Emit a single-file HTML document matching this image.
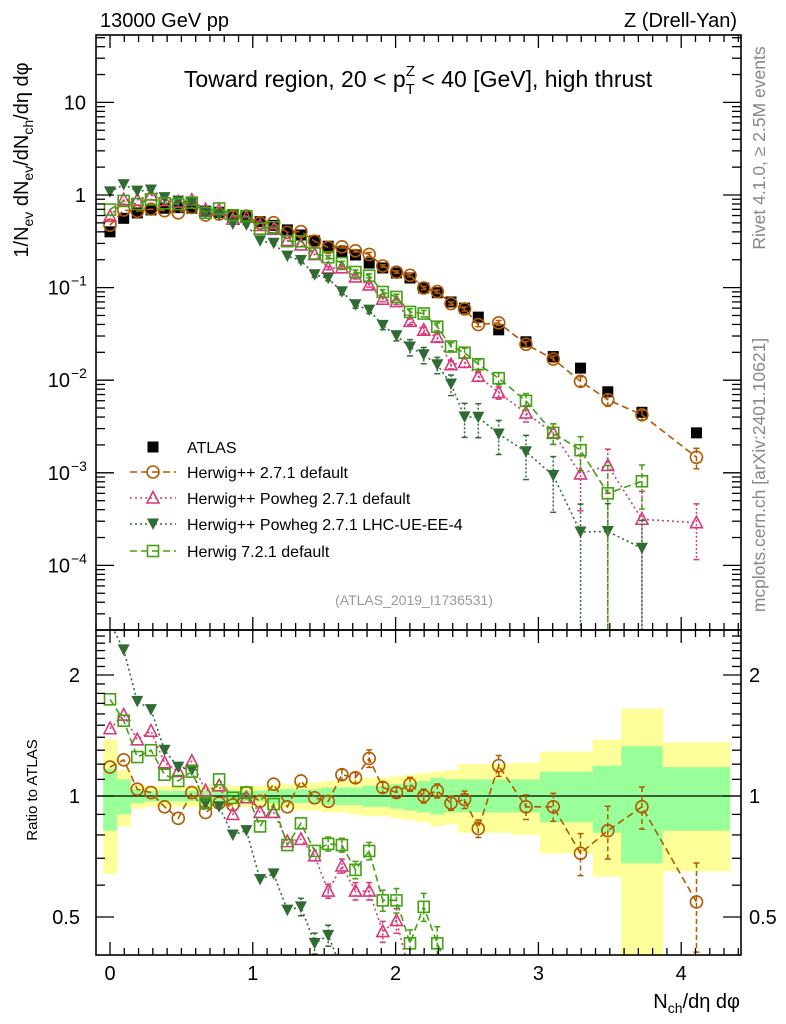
<!DOCTYPE html>
<html><head><meta charset="utf-8">
<style>
html,body{margin:0;padding:0;background:#fff;overflow:hidden;width:786px;height:1024px;}
svg{display:block;font-family:"Liberation Sans",sans-serif;}
</style></head>
<body>
<svg id="chart" width="786" height="1024" viewBox="0 0 786 1024" xmlns="http://www.w3.org/2000/svg">
<defs>
<clipPath id="cm"><rect x="96" y="35" width="645" height="595"/></clipPath>
<clipPath id="cr"><rect x="96" y="630" width="645" height="325"/></clipPath>
</defs>
<text x="100" y="27" font-size="20">13000 GeV pp</text>
<text x="737" y="27" font-size="20" text-anchor="end">Z (Drell-Yan)</text>
<g id="bands" clip-path="url(#cr)"></g>
<g id="mainPlot" clip-path="url(#cm)"></g>
<g id="ratioPlot" clip-path="url(#cr)"></g>
<g id="axes"></g>
<text x="418" y="87" font-size="23" text-anchor="middle">Toward region, 20 &lt; p<tspan font-size="15" dy="7">T</tspan><tspan font-size="15" dx="-9" dy="-18">Z</tspan><tspan dy="11"> &lt; 40 [GeV], high thrust</tspan></text>
<text transform="translate(28,160) rotate(-90)" font-size="20" text-anchor="middle">1/N<tspan font-size="14" dy="5">ev</tspan><tspan dy="-5"> dN</tspan><tspan font-size="14" dy="5">ev</tspan><tspan dy="-5">/dN</tspan><tspan font-size="14" dy="5">ch</tspan><tspan dy="-5">/dη dφ</tspan></text>
<text transform="translate(37,790) rotate(-90)" font-size="15" text-anchor="middle">Ratio to ATLAS</text>
<text x="740" y="1008" font-size="20" text-anchor="end">N<tspan font-size="14" dy="5">ch</tspan><tspan dy="-5">/dη dφ</tspan></text>
<text transform="translate(765,148) rotate(-90)" font-size="17.5" fill="#888" text-anchor="middle">Rivet 4.1.0, ≥ 2.5M events</text>
<text transform="translate(765,475) rotate(-90)" font-size="17.5" fill="#888" text-anchor="middle">mcplots.cern.ch [arXiv:2401.10621]</text>
<text x="414" y="605" font-size="14" fill="#999" text-anchor="middle">(ATLAS_2019_I1736531)</text>
<g id="legend"></g>
</svg>
<script>
const xVals = [0,0.096,0.191,0.287,0.382,0.478,0.573,0.669,0.764,0.860,0.955,1.051,1.146,1.242,1.337,1.433,1.528,1.624,1.719,1.815,1.910,2.006,2.101,2.197,2.292,2.388,2.483,2.579,2.722,2.913,3.104,3.295,3.486,3.725,4.107];
const atlas = [0.40,0.56,0.64,0.69,0.72,0.73,0.72,0.67,0.65,0.61,0.58,0.515,0.47,0.42,0.37,0.32,0.28,0.244,0.225,0.184,0.163,0.144,0.127,0.099,0.088,0.070,0.060,0.048,0.035,0.026,0.018,0.0135,0.0075,0.0045,0.0027];
const hwRatio = [1.18,1.23,1.04,1.02,0.94,0.88,1.02,0.91,0.96,0.95,1.02,0.97,1.07,0.94,1.09,0.99,0.97,1.13,1.11,1.24,1.05,1.02,1.07,1.0,1.03,0.96,0.98,0.83,1.19,0.94,0.94,0.72,0.82,0.94,0.545];
const pwRatio = [1.47,1.59,1.38,1.45,1.21,1.15,1.22,1.03,1.06,0.90,0.99,0.91,0.91,0.77,0.78,0.71,0.58,0.67,0.58,0.58,0.46,0.49,0.34,0.35,0.33,0.21,0.26,0.23,0.21,0.17,0.15,0.072,0.16,0.07,0.107];
const ueRatio = [2.7,2.31,1.72,1.64,1.30,1.18,1.16,0.955,0.94,0.80,0.82,0.62,0.64,0.52,0.53,0.43,0.45,0.37,0.29,0.31,0.24,0.21,0.18,0.19,0.167,0.13,0.067,0.083,0.075,0.065,0.052,0.017,0.031,0.034,null];
const h7Ratio = [1.74,1.54,1.25,1.30,1.13,1.09,1.15,0.96,1.10,0.99,1.02,0.84,0.955,0.755,0.855,0.73,0.76,0.755,0.655,0.73,0.55,0.55,0.43,0.53,0.43,0.33,0.33,0.31,0.30,0.23,0.15,0.13,0.08,0.18,null];
const hwErr = [0,0,0,0,0,0,0,0,0,0,0,0,0,0,0,0,0,0.03,0.03,0.05,0.03,0.03,0.04,0.04,0.04,0.04,0.05,0.05,0.06,0.07,0.08,0.12,0.15,0.12,0.25];
const pwErr = [0,0,0,0,0,0,0,0,0,0,0,0,0,0,0,0,0.04,0.04,0.05,0.05,0.06,0.07,0.08,0.08,0.1,0.1,0.12,0.12,0.15,0.2,0.25,0.6,0.5,1.0,0.6];
const ueErr = [0,0,0,0,0,0,0,0,0,0,0,0,0,0,0.05,0.06,0.06,0.07,0.08,0.08,0.1,0.12,0.2,0.2,0.2,0.25,0.4,0.4,0.4,0.5,0.6,1,1,1,0];
const h7Err = [0,0,0,0,0,0,0,0,0,0,0,0,0,0,0,0,0.04,0.04,0.05,0.05,0.06,0.07,0.08,0.08,0.1,0.1,0.12,0.12,0.15,0.2,0.25,0.4,1.0,0.5,0];
const yellowHi = [1.38,1.16,1.07,1.06,1.06,1.06,1.06,1.06,1.06,1.06,1.06,1.06,1.07,1.07,1.08,1.08,1.09,1.09,1.10,1.11,1.11,1.12,1.13,1.14,1.15,1.16];
const yellowLo = [0.64,0.84,0.93,0.94,0.94,0.94,0.94,0.94,0.94,0.94,0.94,0.94,0.93,0.93,0.92,0.92,0.91,0.91,0.90,0.89,0.89,0.88,0.87,0.86,0.84,0.85];
const greenHi = [1.17,1.10,1.04,1.03,1.03,1.03,1.03,1.03,1.03,1.03,1.03,1.03,1.04,1.04,1.04,1.04,1.05,1.05,1.05,1.06,1.06,1.07,1.08,1.09,1.11,1.10];
const greenLo = [0.82,0.90,0.96,0.97,0.97,0.97,0.97,0.97,0.97,0.97,0.97,0.97,0.96,0.96,0.96,0.96,0.95,0.95,0.95,0.94,0.94,0.93,0.92,0.91,0.90,0.91];
const wideEdges = [2.435,2.82,3.01,3.38,3.58,3.87,4.34];
const wideYellowHi = [1.20,1.21,1.29,1.38,1.65,1.36];
const wideYellowLo = [0.81,0.80,0.72,0.63,0.30,0.65];
const wideGreenHi = [1.10,1.10,1.15,1.19,1.33,1.18];
const wideGreenLo = [0.91,0.91,0.86,0.81,0.68,0.82];
const mainTickLabels = ["10","1","10","10","10","10"];
const mainTickExps = [null,null,"−1","−2","−3","−4"];
const mainTickVals = [10,1,0.1,0.01,0.001,0.0001];
const xTickVals = [0,1,2,3,4];
const ratioTickVals = [0.5,1,2];
const ratioTickLabels = ["0.5","1","2"];

const NS="http://www.w3.org/2000/svg";
const xp = x => 110 + 142.8*x;
const ym = v => 195 - 92.6*Math.log10(v);
const yr = r => 796 - 121*Math.log2(r);
const narrowHalf = 0.0477;
function mk(tag, attrs, parent){const e=document.createElementNS(NS,tag);for(const k in attrs)e.setAttribute(k,attrs[k]);parent.appendChild(e);return e;}

const bands=document.getElementById('bands');
for(let i=0;i<yellowHi.length;i++){
  const x0=xp(xVals[i]-narrowHalf), x1=xp(xVals[i]+narrowHalf);
  const a=mk('rect',{x:x0,y:yr(yellowHi[i]),width:x1-x0+0.5,height:yr(yellowLo[i])-yr(yellowHi[i]),fill:'#ffff99'},bands);
  
  
  const b=mk('rect',{x:x0,y:yr(greenHi[i]),width:x1-x0+0.5,height:yr(greenLo[i])-yr(greenHi[i]),fill:'#99ff99'},bands);
  
  
}
for(let i=0;i<wideYellowHi.length;i++){
  const x0=xp(wideEdges[i]), x1=xp(wideEdges[i+1]);
  const yt=yr(wideYellowHi[i]), yb=Math.min(955,yr(wideYellowLo[i]));
  const a=mk('rect',{x:x0,y:yt,width:x1-x0+0.5,height:yb-yt,fill:'#ffff99'},bands);
  
  
  const b=mk('rect',{x:x0,y:yr(wideGreenHi[i]),width:x1-x0+0.5,height:yr(wideGreenLo[i])-yr(wideGreenHi[i]),fill:'#99ff99'},bands);
  
  
}
const rp=document.getElementById('ratioPlot');
const one=mk('line',{x1:96,x2:741,y1:yr(1),y2:yr(1),stroke:'#000','stroke-width':1.3},rp);



function marker(g,type,cx,cy,color){
  let e;
  if(type==='sq') e=mk('rect',{x:cx-5.5,y:cy-5.5,width:11,height:11,fill:color},g);
  else if(type==='circ') e=mk('circle',{cx:cx,cy:cy,r:6,fill:'none',stroke:color,'stroke-width':1.6},g);
  else if(type==='tri') e=mk('polygon',{points:`${cx},${cy-6.5} ${cx-6},${cy+5} ${cx+6},${cy+5}`,fill:'none',stroke:color,'stroke-width':1.6},g);
  else if(type==='itri') e=mk('polygon',{points:`${cx-6},${cy-5.5} ${cx+6},${cy-5.5} ${cx},${cy+6}`,fill:color},g);
  else if(type==='osq') e=mk('rect',{x:cx-5.5,y:cy-5.5,width:11,height:11,fill:'none',stroke:color,'stroke-width':1.6},g);
  return e;
}
const series=[
  {name:'herwigpp-271',ratio:hwRatio,err:hwErr,color:'#b35a00',type:'circ',dash:'7,4'},
  {name:'powheg-271-default',ratio:pwRatio,err:pwErr,color:'#d63a7a',type:'tri',dash:'2,3'},
  {name:'powheg-271-lhc-ue',ratio:ueRatio,err:ueErr,color:'#2f6b33',type:'itri',dash:'2,3'},
  {name:'herwig-721',ratio:h7Ratio,err:h7Err,color:'#44a012',type:'osq',dash:'7,4'}
];
const mp=document.getElementById('mainPlot');
function drawSeries(g,s,panel){
  const grp=mk('g',{},g);
  
  
  const pts=[];
  const bottom = panel==='main' ? 630 : 955;
  const yf = panel==='main' ? (i=>ym(atlas[i]*s.ratio[i])) : (i=>yr(s.ratio[i]));
  for(let i=0;i<xVals.length;i++){ if(s.ratio[i]==null) continue; pts.push([xp(xVals[i]),Math.min(bottom+20,yf(i))]); }
  const ln=mk('polyline',{points:pts.map(p=>p.join(',')).join(' '),fill:'none',stroke:s.color,'stroke-width':1.6,'stroke-dasharray':s.dash},grp);
  
  
  for(let i=0;i<xVals.length;i++){
    if(s.ratio[i]==null) continue;
    const v = panel==='main'? atlas[i]*s.ratio[i] : s.ratio[i];
    const cx=xp(xVals[i]), cy=yf(i);
    if(cy>bottom+15) continue;
    const e=s.err[i];
    if(e>0){
      const yt = panel==='main'? ym(v*(1+e)) : yr(v*(1+e));
      const lo=v*(1-e);
      let yb = lo<=0 ? bottom : (panel==='main'? ym(lo) : yr(lo));
      yb=Math.min(bottom,yb);
      const eb=mk('line',{x1:cx,x2:cx,y1:yt,y2:yb,stroke:s.color,'stroke-width':1.5,'stroke-dasharray':s.dash==='2,3'?'2,2':'5,3'},grp);
      
      
      mk('line',{x1:cx-3,x2:cx+3,y1:yt,y2:yt,stroke:s.color,'stroke-width':1.5},grp);
      if(lo>0 && yb<bottom) mk('line',{x1:cx-3,x2:cx+3,y1:yb,y2:yb,stroke:s.color,'stroke-width':1.5},grp);
    }
    const m=marker(grp,s.type,cx,cy,s.color);
    
    
  }
}
const ag=mk('g',{},mp);


for(let i=0;i<xVals.length;i++){
  const m=marker(ag,'sq',xp(xVals[i]),ym(atlas[i]),'#000');
  
  
}
series.forEach(s=>drawSeries(mp,s,'main'));
series.forEach(s=>drawSeries(rp,s,'ratio'));

const ax=document.getElementById('axes');
function frame(y0,y1,name){
  const r=mk('rect',{x:96,y:y0,width:645,height:y1-y0,fill:'none',stroke:'#000','stroke-width':1.6},ax);
  
  
}
frame(35,630,'main-frame'); frame(630,955,'ratio-frame');
function tl(x1,y1,x2,y2){mk('line',{x1,y1,x2,y2,stroke:'#000','stroke-width':1.3},ax);}
for(let k=-1;k<=44;k++){
  const x=xp(k/10); if(x<96||x>741) continue;
  const L = k%10===0?13:7;
  tl(x,35,x,35+L); tl(x,630,x,630-L); tl(x,630,x,630+L); tl(x,955,x,955-L);
}
xTickVals.forEach(v=>{
  const t=mk('text',{x:xp(v),y:980,'font-size':20,'text-anchor':'middle'},ax);
  t.textContent=String(v);
  
  
});
for(let d=-5;d<=1;d++){
  for(let m=1;m<=9;m++){
    const v=m*Math.pow(10,d); const y=ym(v); if(y<35||y>630) continue;
    const L=m===1?18:9;
    tl(96,y,96+L,y); tl(741,y,741-L,y);
  }
}
mainTickVals.forEach((v,i)=>{
  const t=mk('text',{x:mainTickExps[i]?70:86,y:ym(v)+7,'font-size':20,'text-anchor':'end'},ax);
  t.textContent=mainTickLabels[i];
  
  
  if(mainTickExps[i]){
    const s=mk('text',{x:71,y:ym(v)-2,'font-size':14,'text-anchor':'start'},ax);
    s.textContent=mainTickExps[i];
    
    
  }
});
for(let k=4;k<=25;k++){
  const v=k/10; const y=yr(v); if(y<630||y>955) continue;
  const L=(k===5||k===10||k===20)?18:9;
  tl(96,y,96+L,y); tl(741,y,741-L,y);
}
ratioTickVals.forEach((v,i)=>{
  const t=mk('text',{x:80,y:yr(v)+7,'font-size':20,'text-anchor':'end'},ax);
  t.textContent=ratioTickLabels[i];
  
  
  const t2=mk('text',{x:749,y:yr(v)+7,'font-size':20,'text-anchor':'start'},ax);
  t2.textContent=ratioTickLabels[i];
  
  
});

const lg=document.getElementById('legend');
const legLabels=['ATLAS','Herwig++ 2.7.1 default','Herwig++ Powheg 2.7.1 default','Herwig++ Powheg 2.7.1 LHC-UE-EE-4','Herwig 7.2.1 default'];
const legY=[447,472,498,524,551];
legLabels.forEach((lab,i)=>{
  const g=mk('g',{},lg);
  
  
  if(i===0){ marker(g,'sq',153,legY[i],'#000'); }
  else {
    const s=series[i-1];
    mk('line',{x1:130,x2:176,y1:legY[i],y2:legY[i],stroke:s.color,'stroke-width':1.6,'stroke-dasharray':s.dash},g);
    marker(g,s.type,153,legY[i],s.color);
  }
  const t=mk('text',{x:187,y:legY[i]+6,'font-size':16},g);
  t.textContent=lab;
});
</script>
</body></html>
